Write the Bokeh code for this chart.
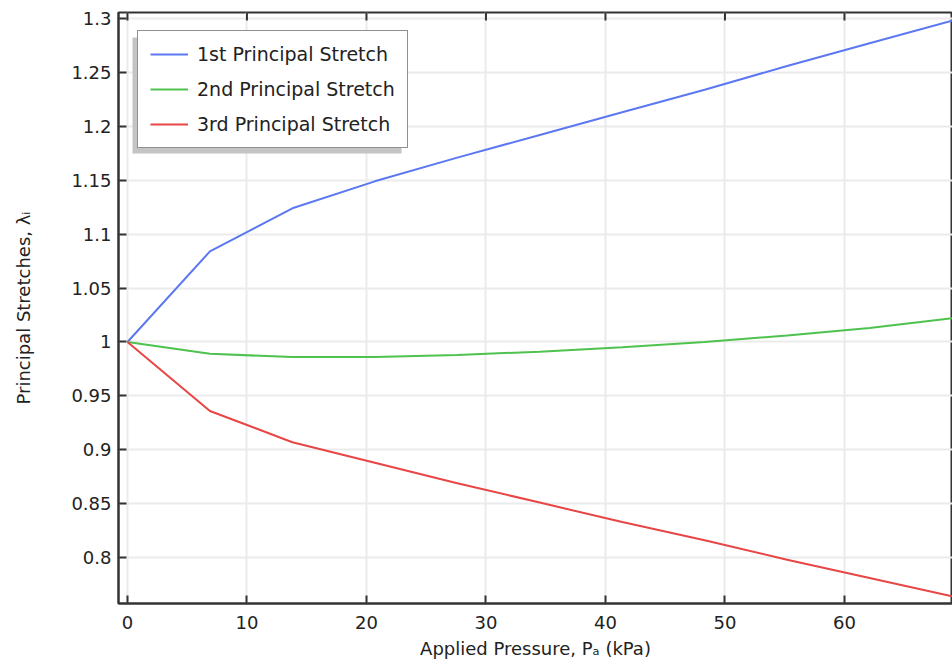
from bokeh.plotting import figure
from bokeh.models import Legend, LegendItem, BoxAnnotation, FixedTicker, Range1d
from bokeh.embed import file_html
from bokeh.resources import INLINE

# ---- data ----
pressure = [0, 6.9, 13.8, 20.7, 27.6, 34.5, 41.4, 48.3, 55.2, 62.1, 69.0]
stretch_1 = [1.000, 1.084, 1.124, 1.149, 1.171, 1.192, 1.213, 1.234, 1.256, 1.277, 1.298]
stretch_2 = [1.000, 0.989, 0.986, 0.986, 0.988, 0.991, 0.995, 1.000, 1.006, 1.013, 1.022]
stretch_3 = [1.000, 0.936, 0.907, 0.888, 0.869, 0.851, 0.833, 0.816, 0.798, 0.781, 0.764]
series_names = ["1st Principal Stretch", "2nd Principal Stretch", "3rd Principal Stretch"]
x_ticks = [0, 10, 20, 30, 40, 50, 60]
y_ticks = [0.8, 0.85, 0.9, 0.95, 1.0, 1.05, 1.1, 1.15, 1.2, 1.25, 1.3]
x_label = "Applied Pressure, P\u2090 (kPa)"
y_label = "Principal Stretches, \u03bb\u1d62"

colors = ["#5b78f2", "#4ec24e", "#e84545"]
FONT = "DejaVu Sans"
TXT = "#222222"

X0, X1 = -0.75, 69.04
Y0, Y1 = 0.7574, 1.3056

p = figure(width=952, height=663, output_backend="svg", toolbar_location=None,
           x_range=Range1d(X0, X1), y_range=Range1d(Y0, Y1),
           min_border_left=118, min_border_right=0, min_border_top=12, min_border_bottom=60,
           x_axis_label=x_label, y_axis_label=y_label)

p.outline_line_color = "#333333"
p.outline_line_width = 2
p.background_fill_color = "white"
p.border_fill_color = "white"

for ax, ticks in ((p.xaxis[0], x_ticks), (p.yaxis[0], y_ticks)):
    ax.ticker = FixedTicker(ticks=ticks)
    ax.major_tick_in = 8
    ax.major_tick_out = 0
    ax.minor_tick_in = 0
    ax.minor_tick_out = 0
    ax.axis_line_color = "#333333"
    ax.axis_line_width = 2
    ax.major_tick_line_color = "#333333"
    ax.major_tick_line_width = 2
    ax.major_label_text_font = FONT
    ax.major_label_text_font_size = "18px"
    ax.major_label_text_color = TXT
    ax.axis_label_text_font = FONT
    ax.axis_label_text_font_size = "18px"
    ax.axis_label_text_font_style = "normal"
    ax.axis_label_text_color = TXT

p.yaxis[0].major_label_standoff = 7
p.yaxis[0].axis_label_standoff = 34
p.xaxis[0].major_label_standoff = 12
p.xaxis[0].axis_label_standoff = 6
p.yaxis[0].formatter.use_scientific = False

p.xgrid.ticker = FixedTicker(ticks=x_ticks)
p.ygrid.ticker = FixedTicker(ticks=y_ticks)
p.grid.grid_line_color = "#ebebeb"
p.grid.grid_line_width = 2

# mirrored tick marks along the top edge (clipped to the frame, so only the inner half shows)
p.scatter(x_ticks, [Y1] * len(x_ticks), marker="dash", size=16, angle=1.5707963,
          line_color="#333333", line_width=2)

r1 = p.line(pressure, stretch_1, line_color=colors[0], line_width=2)
r2 = p.line(pressure, stretch_2, line_color=colors[1], line_width=2)
r3 = p.line(pressure, stretch_3, line_color=colors[2], line_width=2)

# legend shadow (pixel -> data helpers relative to the frame)
FRAME_W, FRAME_H = 834, 591
def px_x(px):
    return X0 + px * (X1 - X0) / FRAME_W
def px_y(py):
    return Y1 - py * (Y1 - Y0) / FRAME_H

shadow = BoxAnnotation(left=px_x(14), right=px_x(283), top=px_y(25), bottom=px_y(141),
                       fill_color="#c4c4c4", fill_alpha=1.0, line_color=None)
p.add_layout(shadow)

legend = Legend(items=[LegendItem(label=series_names[0], renderers=[r1]),
                       LegendItem(label=series_names[1], renderers=[r2]),
                       LegendItem(label=series_names[2], renderers=[r3])],
                location=(19, 455), margin=0, padding=12, spacing=13,
                label_height=20, glyph_height=20, glyph_width=38, label_standoff=9,
                label_text_font=FONT, label_text_font_size="19px", label_text_color=TXT,
                border_line_color="#222222", border_line_width=1.5,
                background_fill_color="white", background_fill_alpha=1.0)
p.add_layout(legend, "center")

open("out.html", "w").write(file_html(p, INLINE))
